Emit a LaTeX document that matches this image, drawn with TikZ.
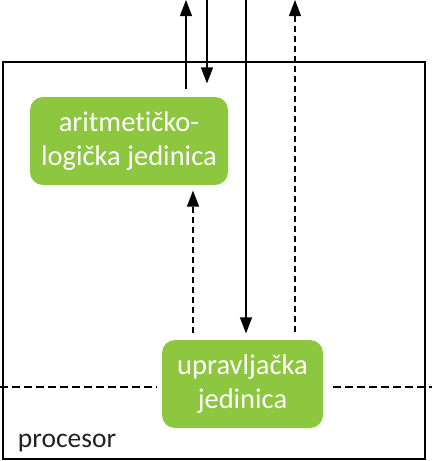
\documentclass[tikz,border=0pt]{standalone}
\usepackage{fontspec}
\setmainfont{Carlito}[Ligatures=NoCommon]
\usetikzlibrary{positioning, arrows.meta}
\definecolor{jedgreen}{RGB}{141,198,63}
\definecolor{txtgray}{RGB}{34,34,34}

\begin{document}
\begin{tikzpicture}[x=1pt, y=1pt, line width=1.2pt,
    unit/.style={fill=jedgreen, rounded corners=13pt, text=white, align=center,
                 font=\fontsize{28.5}{34.5}\selectfont, inner sep=0pt},
    arr/.style={-{Triangle[length=16pt, width=12pt]}},
    ctrl/.style={arr, dash pattern=on 6pt off 4pt}]
              \useasboundingbox (0,0) rectangle (432,-461);

              % okvir procesora
              \draw (3,-62) rectangle (425,-459);
              \node[anchor=base west, text=txtgray, font=\fontsize{27.5}{30}\selectfont] (proc) at (14,-447) {procesor};

              % jedinice
              \node[unit, minimum width=198pt, minimum height=88pt] (alu) at (129,-141) {aritmetičko-\\logička jedinica};
              \node[unit, minimum width=161pt, minimum height=88pt] (cu) at (242.5,-384) {upravljačka\\jedinica};

              % slobodni krajevi na vrhu
              \coordinate (t1) at (186,0);
              \coordinate (t2) at (207,0);
              \coordinate (t3) at (246,0);
              \coordinate (t4) at (295,0);
              \coordinate (lft) at (0,-387);
              \coordinate (rgt) at (432,-387);

              % podaci
              \draw[arr, shorten <=7pt] (alu.north -| t1) -- (t1);
              \draw[arr, shorten >=13pt] (t2) -- (alu.north -| t2);
              \draw[arr, shorten >=6pt] (t3) -- (cu.north -| t3);

              % upravljanje
              \draw[ctrl, shorten <=7pt] (cu.north -| t4) -- (t4);
              \draw[ctrl, shorten <=6pt, shorten >=5pt] (cu.north -| 193,0) -- (alu.south -| 193,0);

              % granica
              \draw[dash pattern=on 8pt off 4pt, shorten >=5pt] (lft) -- (cu.west |- lft);
              \draw[dash pattern=on 8pt off 4pt, shorten <=9pt] (cu.east |- rgt) -- (rgt);

          \end{tikzpicture}
\end{document}
